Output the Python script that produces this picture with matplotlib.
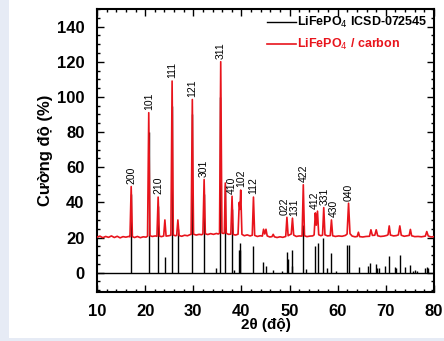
import numpy as np
import matplotlib
matplotlib.use('Agg')
import matplotlib.pyplot as plt
from matplotlib.lines import Line2D
from matplotlib.patches import Rectangle

plt.rcParams['font.family'] = ['Liberation Sans', 'DejaVu Sans']

# reference stick pattern (ICSD-072545): 2theta, relative intensity
ref_theta = [17.15, 20.8, 22.7, 24.1, 25.6, 26.8, 29.8, 32.2, 34.7, 35.65, 36.6,
             38.05, 38.5, 39.55, 39.65, 39.8, 42.5, 44.55, 45.05, 46.6, 48.4,
             49.4, 49.6, 50.45, 50.6, 52.85, 53.4, 55.3, 55.85, 57.0, 57.8,
             58.6, 59.6, 62.0, 62.3, 64.5, 66.35, 66.7, 67.95, 68.2, 68.5, 69.8,
             70.7, 71.9, 72.2, 72.9, 74.05, 75.0, 75.6, 76.0, 76.4, 78.2, 78.5, 78.8]
ref_int = [45, 80, 38, 9, 95, 25, 90, 45, 2.5, 100, 50,
           36, 1.5, 13, 13, 17, 15, 6, 4, 1.3, 1,
           12, 7.5, 13, 4, 27, 2, 15, 17, 20, 2.5,
           11, 0.8, 16, 16, 3.2, 4, 5.5, 5, 2.6, 2.6, 3.6,
           9.6, 3.2, 2.5, 10.2, 3.2, 4.5, 1.2, 1.3, 1.2, 2.5, 3.2, 2.5]

red_trace = [
    (10.0, 20.2), (10.6, 20.8), (11.2, 19.9), (11.8, 20.6), (12.4, 20.1), (13.0, 20.9),
    (13.6, 20.0), (14.2, 20.7), (14.8, 19.8), (15.4, 20.5), (16.0, 20.2), (16.6, 20.6),
    (16.85, 20.4), (17.1, 49.0), (17.35, 20.5),
    (17.8, 20.0), (18.4, 20.6), (19.0, 19.9), (19.6, 20.4), (20.2, 20.2),
    (20.5, 20.8), (20.75, 91.0), (21.0, 21.0),
    (21.5, 20.6), (22.1, 20.9),
    (22.45, 20.7), (22.7, 43.0), (22.95, 20.8),
    (23.4, 20.5), (23.85, 20.9), (24.1, 30.0), (24.35, 20.8),
    (24.9, 21.0), (25.35, 21.3), (25.6, 109.0), (25.85, 21.4),
    (26.3, 21.0), (26.55, 21.2), (26.8, 30.0), (27.05, 21.1),
    (27.6, 20.7), (28.2, 21.3), (28.8, 21.0), (29.3, 21.6),
    (29.55, 21.8), (29.8, 98.5), (30.05, 21.9),
    (30.6, 21.4), (31.2, 21.8), (31.75, 21.6),
    (32.0, 22.0), (32.25, 53.0), (32.5, 22.1),
    (33.0, 21.7), (33.6, 22.2), (34.2, 21.8), (34.8, 22.3), (35.2, 22.0),
    (35.45, 22.4), (35.7, 120.0), (35.95, 22.6),
    (36.2, 22.3), (36.45, 22.5), (36.65, 51.0), (36.85, 22.4),
    (37.3, 21.8), (37.8, 21.9), (38.05, 43.5), (38.3, 21.7),
    (38.8, 21.4), (39.3, 21.9), (39.55, 40.0), (39.7, 36.0), (39.85, 47.0), (40.1, 21.8),
    (40.6, 21.0), (41.2, 21.5), (41.8, 20.9), (42.25, 21.3), (42.5, 43.0), (42.75, 21.2),
    (43.3, 20.6), (43.9, 21.0), (44.35, 20.8), (44.6, 24.7), (44.85, 22.0), (45.1, 24.7), (45.35, 20.9),
    (45.9, 20.3), (46.35, 20.5), (46.6, 21.8), (46.85, 20.4),
    (47.4, 20.0), (48.0, 20.4), (48.6, 20.1), (49.2, 20.6), (49.45, 31.5), (49.7, 21.0),
    (50.05, 21.6), (50.35, 22.0), (50.6, 31.0), (50.85, 21.4),
    (51.4, 20.6), (52.0, 20.9), (52.6, 20.8), (52.85, 50.0), (53.1, 21.0),
    (53.6, 20.5), (54.2, 20.8), (54.8, 20.9), (55.1, 21.5), (55.35, 34.0), (55.55, 27.0),
    (55.8, 35.0), (56.05, 21.6),
    (56.5, 21.0), (56.85, 21.4), (57.1, 37.0), (57.35, 21.5),
    (57.9, 20.9), (58.45, 21.1), (58.7, 30.0), (58.95, 21.0),
    (59.5, 20.6), (60.2, 20.9), (60.9, 20.7), (61.6, 21.2), (61.95, 22.0), (62.25, 39.5), (62.55, 22.2),
    (63.0, 20.8), (63.6, 20.4), (64.05, 20.6), (64.3, 23.0), (64.55, 20.5),
    (65.2, 20.3), (65.9, 20.6), (66.6, 20.7), (66.9, 24.4), (67.2, 21.2), (67.7, 21.3),
    (68.0, 24.4), (68.3, 21.0),
    (68.9, 20.6), (69.6, 20.8), (70.2, 21.2), (70.45, 21.6), (70.7, 26.6), (70.95, 21.4),
    (71.6, 20.9), (72.2, 21.1), (72.6, 21.5), (72.9, 26.6), (73.2, 21.3),
    (73.8, 20.7), (74.4, 21.0), (74.85, 21.2), (75.1, 24.6), (75.35, 21.0),
    (76.0, 20.5), (76.7, 20.6), (77.4, 20.4), (78.2, 20.8), (78.5, 23.4), (78.8, 20.9),
    (79.4, 20.3), (80.0, 20.5),
]
red_x, red_y = zip(*red_trace)

# Miller index labels: position, peak top, text
hkl_theta = [17.1, 20.75, 22.7, 25.6, 29.8, 32.25, 35.7, 38.05, 39.85, 42.5,
             49.05, 50.95, 52.85, 55.3, 57.25, 59.1, 62.25]
hkl_top = [49.0, 91.0, 43.0, 109.0, 98.5, 53.0, 120.0, 43.5, 47.0, 43.0,
           31.5, 31.0, 50.0, 35.0, 37.0, 30.0, 39.5]
hkl_text = ['200', '101', '210', '111', '121', '301', '311', '410', '102', '112',
            '022', '131', '422', '412', '331', '430', '040']

fig = plt.figure(figsize=(4.44, 3.41), dpi=100)
fig.patch.set_facecolor('#e6ebf5')
fig.add_artist(Rectangle((9 / 444, 3 / 341), 1, 1, transform=fig.transFigure,
                         facecolor='white', edgecolor='none', zorder=-10))
ax = fig.add_axes([97 / 444, 1 - 292 / 341, (434 - 97) / 444, (292 - 9) / 341])

ax.axhline(0, color='black', lw=1.0, zorder=2)
ax.vlines(ref_theta, 0, ref_int, color='black', lw=1.0, zorder=2)
ax.plot(red_x, red_y, color='#e8141c', lw=1.2, zorder=3)

for t, h, s in zip(hkl_theta, hkl_top, hkl_text):
    ax.text(t, h + 1.5, s, rotation=90, ha='center', va='bottom', fontsize=7.5)

ax.set_xlim(10, 80)
ax.set_ylim(-11, 150)
ax.set_xticks(np.arange(10, 81, 10))
ax.set_xticks(np.arange(10, 81, 2), minor=True)
ax.set_yticks(np.arange(0, 141, 20))
ax.set_yticks(np.arange(-10, 151, 5), minor=True)
ax.tick_params(which='both', direction='in', top=True, right=True, width=1.0)
ax.tick_params(which='major', length=5)
ax.tick_params(which='minor', length=2.5)
ax.tick_params(axis='x', pad=9, labelsize=12)
ax.tick_params(axis='y', pad=9, labelsize=12)
for lab in ax.get_xticklabels() + ax.get_yticklabels():
    lab.set_fontweight('bold')
for sp in ax.spines.values():
    sp.set_linewidth(1.5)

ax.set_xlabel('2θ (độ)', fontsize=11, fontweight='bold', labelpad=-1)
ax.set_ylabel('Cường độ (%)', fontsize=12, fontweight='bold', labelpad=3)

handles = [Line2D([], [], color='black', lw=1.0), Line2D([], [], color='#e8141c', lw=1.2)]
leg = ax.legend(handles, ['LiFePO$_4$ ICSD-072545', 'LiFePO$_4$ / carbon'],
                loc='upper right', frameon=False, handlelength=2.3, handletextpad=0.1,
                borderaxespad=0.1, labelspacing=0.55,
                prop={'weight': 'bold', 'size': 9})
for txt, c in zip(leg.get_texts(), ['black', '#e8141c']):
    txt.set_color(c)

fig.savefig('out.png', dpi=100, facecolor=fig.get_facecolor())
